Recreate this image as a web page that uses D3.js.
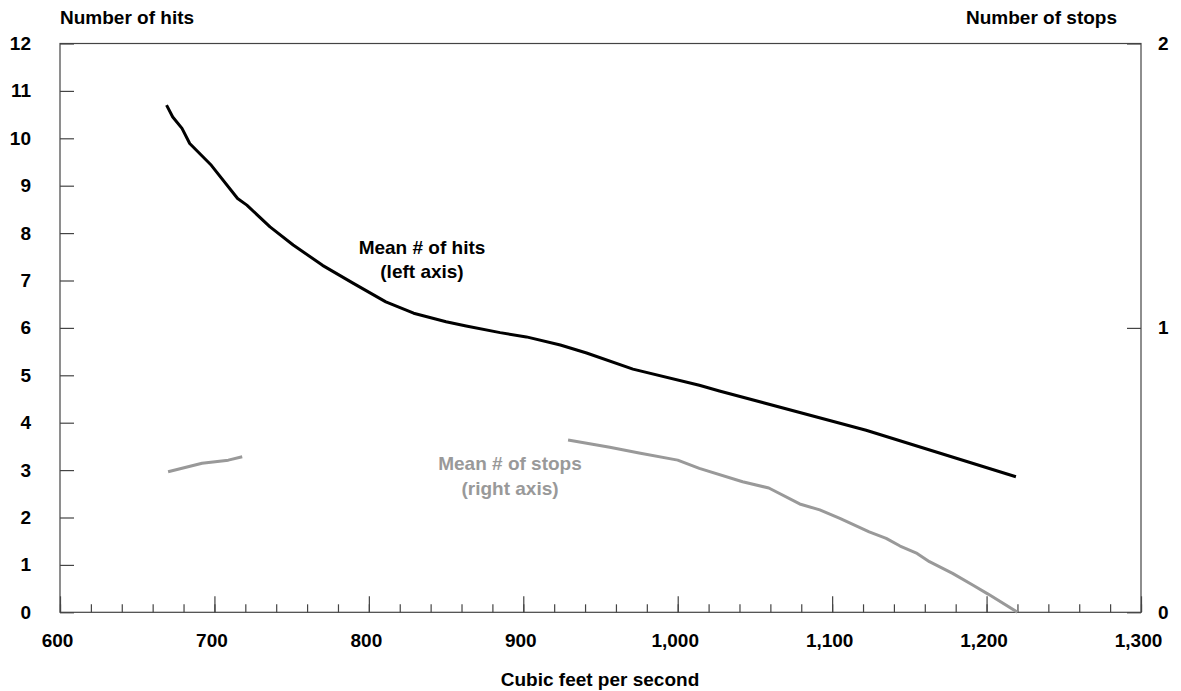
<!DOCTYPE html>
<html>
<head>
<meta charset="utf-8">
<script src="https://cdn.jsdelivr.net/npm/d3@7"></script>
<style>
  body { margin: 0; background: #fff; }
  svg text { font-family: "Liberation Sans", Arial, Helvetica, sans-serif; font-weight: bold; }
</style>
</head>
<body>
<script>
// chart values

// mean number of hits (left axis)
var hitsCfs = [669, 673, 679, 684, 698, 715, 721, 736, 751, 770, 790, 811, 829, 850, 863,
               885, 902, 924, 941, 971, 1014, 1027, 1122, 1219];
var hitsVal = [10.70, 10.45, 10.21, 9.89, 9.43, 8.73, 8.59, 8.13, 7.75, 7.32, 6.94, 6.55, 6.31, 6.13, 6.04,
               5.90, 5.81, 5.64, 5.47, 5.13, 4.79, 4.67, 3.84, 2.86];

// mean number of stops (right axis), null marks the gap
var stopsCfs = [670, 692, 709, 718, 800, 929, 956, 975, 1000, 1014, 1042, 1059, 1079, 1092, 1105,
                1124, 1135, 1144, 1155, 1163, 1178, 1191, 1201, 1220];
var stopsVal = [0.494, 0.524, 0.535, 0.547, null, 0.606, 0.580, 0.560, 0.535, 0.506, 0.459, 0.437, 0.381, 0.360, 0.330,
                0.283, 0.260, 0.233, 0.207, 0.178, 0.137, 0.096, 0.064, 0.000];

var xTicks     = [600, 700, 800, 900, 1000, 1100, 1200, 1300];
var xMinor     = d3.range(600, 1301, 20);
var leftTicks  = d3.range(0, 13, 1);
var rightTicks = [0, 1, 2];

// layout
var W = 1181, H = 691;
var m = {top: 43.5, right: 40, bottom: 79, left: 60};
var pw = 1141 - m.left;
var ph = 612.3 - m.top;
var fs = 19;

var svg = d3.select('body')
  .append('svg')
    .attr('width', W)
    .attr('height', H);

var g = svg.append('g')
    .attr('transform', 'translate(' + m.left + ',' + m.top + ')');

var x  = d3.scaleLinear().domain([600, 1300]).range([0, pw]);
var yL = d3.scaleLinear().domain([0, 12]).range([ph, 0]);
var yR = d3.scaleLinear().domain([0, 2]).range([ph, 0]);

// frame
g.append('rect')
    .attr('x', 0).attr('y', 0)
    .attr('width', pw).attr('height', ph)
    .attr('fill', 'none')
    .attr('stroke', '#444')
    .attr('stroke-width', 1.2);

// minor x ticks
var minor = g.append('g')
    .attr('transform', 'translate(0,' + ph + ')')
    .call(d3.axisBottom(x).tickValues(xMinor).tickSizeInner(-8).tickSizeOuter(0).tickFormat(''));

// major x ticks and labels
var xAxis = g.append('g')
    .attr('transform', 'translate(0,' + ph + ')')
    .call(d3.axisBottom(x).tickValues(xTicks).tickSizeInner(-16).tickSizeOuter(0)
      .tickPadding(21).tickFormat(d3.format(',')));

// left axis
var lAxis = g.append('g')
    .call(d3.axisLeft(yL).tickValues(leftTicks).tickSizeInner(-14).tickSizeOuter(0)
      .tickPadding(29).tickFormat(d3.format('d')));

// right axis
var rAxis = g.append('g')
    .attr('transform', 'translate(' + pw + ',0)')
    .call(d3.axisRight(yR).tickValues(rightTicks).tickSizeInner(-14).tickSizeOuter(0)
      .tickPadding(17).tickFormat(d3.format('d')));

[minor, xAxis, lAxis, rAxis].forEach(function(a) {
  a.select('.domain').remove();
  a.selectAll('line').attr('stroke', '#444').attr('stroke-width', 1.2);
  a.selectAll('text').attr('font-size', fs).attr('fill', '#000')
    .style('font-family', '"Liberation Sans", Arial, sans-serif').style('font-weight', 'bold');
});
xAxis.selectAll('text').attr('dx', -3);

// series
var hits = hitsCfs.map(function(c, i) { return {x: c, y: hitsVal[i]}; });
var stops = stopsCfs.map(function(c, i) { return {x: c, y: stopsVal[i]}; });

var hitLine = d3.line()
    .x(function(d) { return x(d.x); })
    .y(function(d) { return yL(d.y); });

var stopLine = d3.line()
    .defined(function(d) { return d.y !== null; })
    .x(function(d) { return x(d.x); })
    .y(function(d) { return yR(d.y); });

g.append('path')
    .attr('d', hitLine(hits))
    .attr('fill', 'none')
    .attr('stroke', '#000')
    .attr('stroke-width', 3)
    .attr('stroke-linejoin', 'round');

g.append('path')
    .attr('d', stopLine(stops))
    .attr('fill', 'none')
    .attr('stroke', '#999')
    .attr('stroke-width', 3)
    .attr('stroke-linejoin', 'round');

// axis titles
svg.append('text')
    .attr('x', 60).attr('y', 24)
    .attr('font-size', fs)
    .text('Number of hits');

svg.append('text')
    .attr('x', 1117).attr('y', 24)
    .attr('text-anchor', 'end')
    .attr('font-size', fs)
    .text('Number of stops');

svg.append('text')
    .attr('x', 600).attr('y', 686)
    .attr('text-anchor', 'middle')
    .attr('font-size', fs)
    .text('Cubic feet per second');

// series labels
var hitLabel = svg.append('text')
    .attr('text-anchor', 'middle')
    .attr('font-size', fs);
hitLabel.append('tspan').attr('x', 422).attr('y', 254).text('Mean # of hits');
hitLabel.append('tspan').attr('x', 422).attr('y', 278).text('(left axis)');

var stopLabel = svg.append('text')
    .attr('text-anchor', 'middle')
    .attr('font-size', fs)
    .attr('fill', '#999');
stopLabel.append('tspan').attr('x', 510).attr('y', 470).text('Mean # of stops');
stopLabel.append('tspan').attr('x', 510).attr('y', 495).text('(right axis)');
</script>
</body>
</html>
